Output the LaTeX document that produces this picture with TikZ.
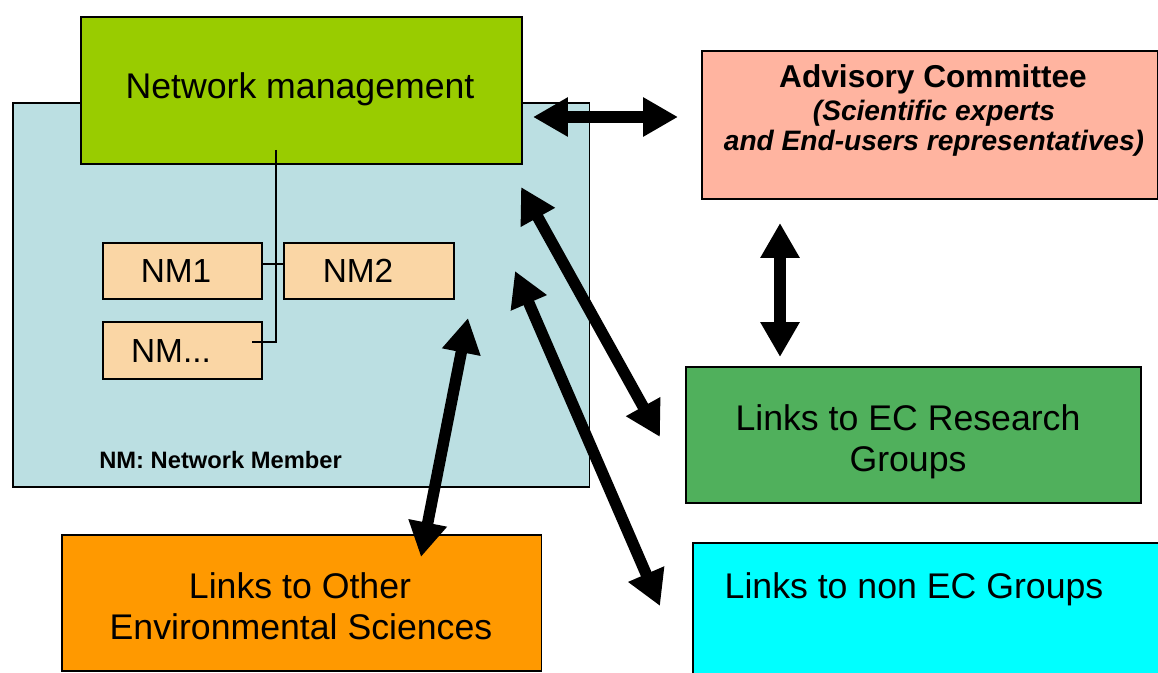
\documentclass[tikz,border=0pt]{standalone}
\usepackage{fontspec}
\setmainfont{Liberation Sans}
\usetikzlibrary{arrows.meta}

\definecolor{memberblue}{HTML}{BBDFE2}
\definecolor{mgmtgreen}{HTML}{99CC00}
\definecolor{nmpeach}{HTML}{FAD6A5}
\definecolor{advisorypink}{HTML}{FFB4A0}
\definecolor{ecgreen}{HTML}{50B05C}
\definecolor{oesorange}{HTML}{FF9900}
\definecolor{nonecyan}{HTML}{00FFFF}

\tikzset{
	box/.style={draw,line width=0.9pt,anchor=north west,inner sep=0pt},
	txt/.style={anchor=base,inner sep=0pt,font=\fontsize{20.3}{24}\selectfont},
	nmtxt/.style={anchor=base,inner sep=0pt,font=\fontsize{19}{22}\selectfont},
	tree/.style={line width=0.6pt},
	link/.style={line width=6.5pt,
		{Triangle[length=19.8pt,width=21pt]}-{Triangle[length=19.8pt,width=21pt]}}
}

\begin{document}
\begin{tikzpicture}[x=0.02cm,y=-0.02cm]
	\useasboundingbox (0,0) rectangle (1158,672);
	% network box
	\node[box,fill=memberblue,minimum width=11.54cm,minimum height=7.68cm] (member) at (12,102) {};
	\node[box,fill=mgmtgreen,minimum width=8.82cm,minimum height=2.94cm] (mgmt) at (80,16) {};
	\node[txt] (mgmttxt) at (300,99) {Network management};
	\node[box,fill=nmpeach,minimum width=3.18cm,minimum height=1.12cm] (nm1) at (102,242) {};
	\node[box,fill=nmpeach,minimum width=3.40cm,minimum height=1.12cm] (nm2) at (283,242) {};
	\node[box,fill=nmpeach,minimum width=3.18cm,minimum height=1.14cm] (nmx) at (102,321) {};
	\node[nmtxt] (nm1txt) at (176,282) {NM1};
	\node[nmtxt] (nm2txt) at (358,282) {NM2};
	\node[nmtxt] (nmxtxt) at (171,362) {NM...};
	\coordinate (trunk) at (276,150);
	\coordinate (twig) at (252,342);
	\draw[tree] (trunk) -- (trunk |- twig) -- (twig);
	\draw[tree] (nm1.east |- 0,264) -- (nm2.west |- 0,264);
	\node[anchor=base west,inner sep=0pt,font=\fontsize{13.5}{16}\selectfont\bfseries]
		(legend) at (99,468) {NM: Network Member};
	% advisory committee
	\node[box,fill=advisorypink,minimum width=9.12cm,minimum height=2.96cm] (ac) at (701,50) {};
	\node[anchor=base,inner sep=0pt,font=\fontsize{18}{21}\selectfont\bfseries]
		(actitle) at (933,88) {Advisory Committee};
	\node[anchor=base,inner sep=0pt,font=\fontsize{16}{19}\selectfont\bfseries\itshape]
		(acsub1) at (934,121) {(Scientific experts};
	\node[anchor=base,inner sep=0pt,font=\fontsize{16}{19}\selectfont\bfseries\itshape]
		(acsub2) at (934,151) {and End-users representatives)};
	% links
	\node[box,fill=ecgreen,minimum width=9.10cm,minimum height=2.72cm] (ec) at (685,366) {};
	\node[txt] (ectxt1) at (908,430) {Links to EC Research};
	\node[txt] (ectxt2) at (908,471) {Groups};
	\node[box,fill=oesorange,minimum width=9.60cm,minimum height=2.72cm] (oes) at (61,534) {};
	\node[txt] (oestxt1) at (300,598) {Links to Other};
	\node[txt] (oestxt2) at (301,639) {Environmental Sciences};
	\node[box,fill=nonecyan,minimum width=9.46cm,minimum height=2.96cm] (nonec) at (692,542) {};
	\node[txt] (nonectxt) at (914,598) {Links to non EC Groups};
	% arrows
	\coordinate (mgmt-ac) at (533,117);
	\coordinate (ac-mgmt) at (678,117);
	\coordinate (ac-ec) at (780,223);
	\coordinate (ec-ac) at (780,357);
	\coordinate (member-ec) at (521,187);
	\coordinate (ec-member) at (660,437);
	\coordinate (member-nonec) at (515,271);
	\coordinate (nonec-member) at (660,606);
	\coordinate (member-oes) at (468,318);
	\coordinate (oes-member) at (421,557);
	\draw[link] (mgmt-ac) -- (ac-mgmt);
	\draw[link] (ac-ec) -- (ec-ac);
	\draw[link] (member-ec) -- (ec-member);
	\draw[link] (member-nonec) -- (nonec-member);
	\draw[link] (member-oes) -- (oes-member);
\end{tikzpicture}
\end{document}
